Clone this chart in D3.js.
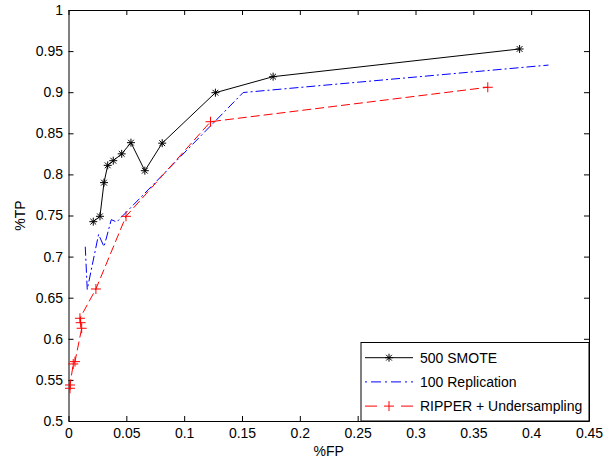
<!DOCTYPE html>
<html>
<head>
<meta charset="utf-8">
<script src="https://cdn.jsdelivr.net/npm/d3@7"></script>
<style>
  body { margin: 0; background: #fff; }
  svg { display: block; font-family: "Liberation Sans", Arial, sans-serif; }
</style>
</head>
<body>
<svg width="612" height="459"></svg>
<script>
// values
var smoteFP = [0.0214, 0.0272, 0.0307, 0.0339, 0.0387, 0.0460, 0.0540, 0.0660, 0.0810, 0.1270, 0.1769, 0.3900]
var smoteTP = [0.7425, 0.7490, 0.7900, 0.8110, 0.8167, 0.8250, 0.8386, 0.8045, 0.8380, 0.8994, 0.9189, 0.9526]

var replFP = [0.0145, 0.0162, 0.0260, 0.0307, 0.0370, 0.0416, 0.1510, 0.4150]
var replTP = [0.7120, 0.6600, 0.7270, 0.7120, 0.7450, 0.7420, 0.8996, 0.9330]

var ripperFP = [0.0013, 0.0013, 0.0041, 0.0056, 0.0114, 0.0105, 0.0099, 0.0237, 0.0497, 0.1228, 0.3625]
var ripperTP = [0.5398, 0.5438, 0.5694, 0.5722, 0.6128, 0.6196, 0.6250, 0.6606, 0.7490, 0.8641, 0.9060]

var xTicks = [0, 0.05, 0.1, 0.15, 0.2, 0.25, 0.3, 0.35, 0.4, 0.45]
var yTicks = [0.5, 0.55, 0.6, 0.65, 0.7, 0.75, 0.8, 0.85, 0.9, 0.95, 1]
var legendLabels = ['500 SMOTE', '100 Replication', 'RIPPER + Undersampling']

var svg = d3.select('svg')
var box = { left: 68.5, right: 589, top: 10, bottom: 421 }

var x = d3.scaleLinear().domain([0, 0.45]).range([box.left, box.right])
var y = d3.scaleLinear().domain([0.5, 1]).range([box.bottom, box.top])

// axes with inward ticks, MATLAB style box
var fmt = function(d) { return String(+d.toFixed(2)) }
svg.append('g').attr('transform', 'translate(0,' + box.bottom + ')')
  .call(d3.axisBottom(x).tickValues(xTicks).tickFormat(fmt).tickSizeInner(-5).tickSizeOuter(0).tickPadding(7.5))
svg.append('g').attr('transform', 'translate(' + box.left + ',0)')
  .call(d3.axisLeft(y).tickValues(yTicks).tickFormat(fmt).tickSizeInner(-5).tickSizeOuter(0).tickPadding(5.5))
svg.append('g').attr('transform', 'translate(0,' + box.top + ')')
  .call(d3.axisTop(x).tickValues(xTicks).tickFormat('').tickSizeInner(-5).tickSizeOuter(0))
svg.append('g').attr('transform', 'translate(' + box.right + ',0)')
  .call(d3.axisRight(y).tickValues(yTicks).tickFormat('').tickSizeInner(-5).tickSizeOuter(0))

svg.selectAll('.domain').attr('stroke', '#000').attr('stroke-width', 1)
svg.selectAll('.tick line').attr('stroke', '#000').attr('stroke-width', 1)
svg.selectAll('.tick text').attr('font-size', 14).attr('fill', '#000')
  .attr('font-family', '"Liberation Sans", Arial, sans-serif')

svg.append('text').attr('x', (box.left + box.right) / 2).attr('y', 456)
  .attr('text-anchor', 'middle').attr('font-size', 14).text('%FP')
svg.append('text').attr('transform', 'translate(25,' + ((box.top + box.bottom) / 2) + ') rotate(-90)')
  .attr('text-anchor', 'middle').attr('font-size', 14).text('%TP')

var pts = function(xs, ys) { return xs.map(function(v, i) { return [v, ys[i]] }) }
var line = d3.line().x(function(d) { return x(d[0]) }).y(function(d) { return y(d[1]) })

var series = [
  { data: pts(smoteFP, smoteTP), color: '#000', dash: null, keyDash: null, marker: 'star' },
  { data: pts(replFP, replTP), color: '#0000ff', dash: '9,3,2,3', keyDash: '2,4,10,4', marker: null },
  { data: pts(ripperFP, ripperTP), color: '#ff0000', dash: '9,4', keyDash: '12,24', marker: 'plus' }
]

var drawMarker = function(g, kind, cx, cy, color) {
  var r = kind == 'star' ? 4 : 5
  var segs = [[-r, 0, r, 0], [0, -r, 0, r]]
  if (kind == 'star') {
    var q = r * 0.72
    segs.push([-q, -q, q, q], [-q, q, q, -q])
  }
  segs.forEach(function(s) {
    g.append('line').attr('x1', cx + s[0]).attr('y1', cy + s[1]).attr('x2', cx + s[2]).attr('y2', cy + s[3])
      .attr('stroke', color).attr('stroke-width', 1)
  })
}

series.forEach(function(s) {
  svg.append('path').datum(s.data).attr('d', line).attr('fill', 'none')
    .attr('stroke', s.color).attr('stroke-width', 1).attr('stroke-dasharray', s.dash)
  if (!s.marker) return
  var g = svg.append('g')
  s.data.forEach(function(d) { drawMarker(g, s.marker, x(d[0]), y(d[1]), s.color) })
})

// legend in the bottom-right corner
var lg = svg.append('g')
lg.append('rect').attr('x', 361).attr('y', 342.5).attr('width', box.right - 361).attr('height', box.bottom - 342.5)
  .attr('fill', '#fff').attr('stroke', '#000').attr('stroke-width', 1)
series.forEach(function(s, i) {
  var ly = 357.7 + i * 24.2
  lg.append('line').attr('x1', 365).attr('x2', 413).attr('y1', ly).attr('y2', ly)
    .attr('stroke', s.color).attr('stroke-width', 1).attr('stroke-dasharray', s.keyDash)
  if (s.marker) drawMarker(lg, s.marker, 389, ly, s.color)
  lg.append('text').attr('x', 420).attr('y', ly + 5).attr('font-size', 14).text(legendLabels[i])
})
</script>
</body>
</html>
